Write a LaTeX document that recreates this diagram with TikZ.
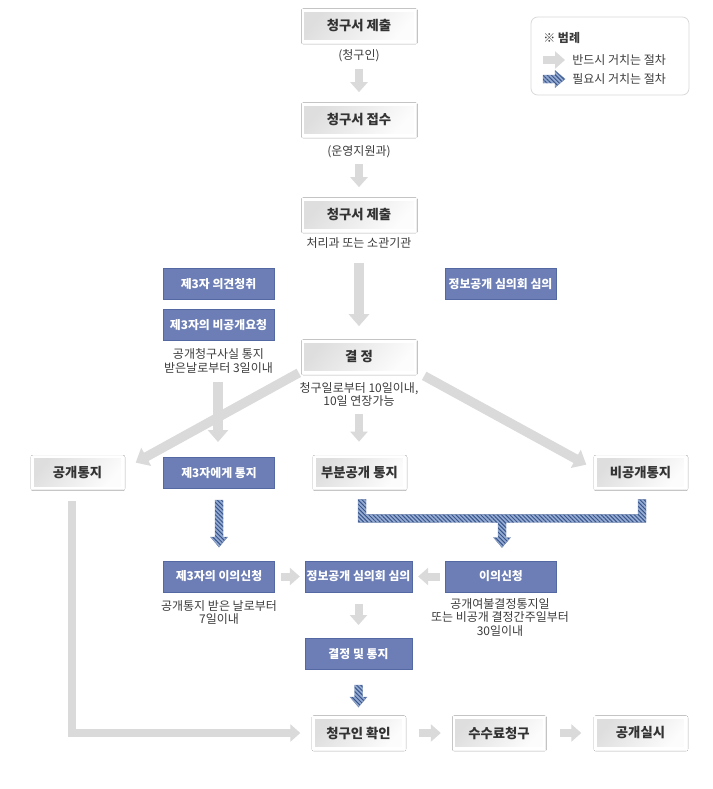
\documentclass[tikz,border=0pt]{standalone}
\usepackage{fontspec}
\setmainfont{Noto Sans CJK KR}
\usetikzlibrary{arrows.meta,calc,patterns.meta,shadows.blur}
\definecolor{boxblue}{RGB}{108,126,181}
\definecolor{boxblueedge}{RGB}{84,104,164}
\definecolor{arrgray}{RGB}{218,218,218}
\definecolor{hatchbg}{RGB}{150,172,210}
\definecolor{hatchfg}{RGB}{55,85,140}
\definecolor{txtdark}{RGB}{51,51,51}
\definecolor{txtcap}{RGB}{60,60,60}
\newcommand\hatchdown[3]{\path[hatch] ($(#1)+(-4,#2)$) -- ++(8,0) -- ++(0,#3-10) -- ++(4.5,0) -- ++(-8.5,10) -- ++(-8.5,-10) -- ++(4.5,0) -- cycle;}
\newcommand\hatchright[2]{\path[hatch] ($(#1)+(0,-4)$) -- ++(#2-10,0) -- ++(0,-4.5) -- ++(10,8.5) -- ++(-10,8.5) -- ++(0,-4.5) -- ++(-#2+10,0) -- cycle;}
\begin{document}
\begin{tikzpicture}[x=0.75pt,y=-0.75pt,
  graybox/.style={draw=white, line width=1.8pt, inner sep=0pt,
    minimum width=67.5pt, minimum height=23.5pt,
    left color=black!13, middle color=black!8, right color=black!1, shading angle=50,
    blur shadow={shadow xshift=0.3pt, shadow yshift=-0.3pt, shadow blur radius=1.6pt, shadow opacity=30},
    text=txtdark, font=\fontsize{10}{11}\selectfont\bfseries},
  bluebox/.style={draw=boxblueedge, line width=0.5pt, fill=boxblue, inner sep=0pt,
    minimum width=83.5pt, minimum height=23.5pt,
    text=white, font=\fontsize{8.9}{11}\selectfont\bfseries},
  capt/.style={align=center, text=txtcap, inner sep=0pt, font=\fontsize{9}{9.9}\selectfont},
  garrow/.style={draw=arrgray, line width=6pt, -{Triangle[width=12.75pt,length=7.5pt]}},
  garrowb/.style={draw=arrgray, line width=7pt, -{Triangle[width=15pt,length=9pt]}},
  hatch/.style={preaction={fill=hatchbg}, pattern={Lines[angle=-45,distance=2.2pt,line width=0.75pt]}, pattern color=hatchfg, draw=hatchfg!70, line width=0.3pt},
  legtxt/.style={anchor=west, inner sep=0pt, text=txtcap, font=\fontsize{9}{10}\selectfont}]
\fill[white] (0,0) rectangle (713,789);
\useasboundingbox (0,0) rectangle (713,789);

% legend
\node[draw=black!15, line width=0.6pt, rounded corners=5pt, minimum width=118.5pt, minimum height=58.5pt, inner sep=0pt] (legend) at (610,56) {};
\node[legtxt] (legtitle) at (543,38) {※ \bfseries 범례};
\coordinate (lga) at (543,60);
\coordinate (lgb) at (565,60);
\draw[garrow] (lga) -- (lgb);
\node[legtxt] (leg1) at (572,60) {반드시 거치는 절차};
\coordinate (lgc) at (543,79);
\hatchright{lgc}{22}
\node[legtxt] (leg2) at (572,79) {필요시 거치는 절차};

% main column
\node[graybox, minimum width=84pt] (sub1) at (359,26) {청구서 제출};
\node[capt] (cap1) at (359,56) {(청구인)};
\node[graybox, minimum width=84pt] (rec) at (359,120) {청구서 접수};
\node[capt] (cap2) at (359,152) {(운영지원과)};
\node[graybox, minimum width=84pt] (sub2) at (359,215) {청구서 제출};
\node[capt] (cap3) at (359,243) {처리과 또는 소관기관};
\node[graybox, minimum width=84pt] (dec) at (359,357) {결 정};
\node[capt] (cap4) at (359,394.5) {청구일로부터 10일이내,\\10일 연장가능};

\node[bluebox] (op3) at (218.5,284) {제3자 의견청취};
\node[bluebox] (np3) at (218.5,325) {제3자의 비공개요청};
\node[capt] (cap5) at (218.5,361) {공개청구사실 통지\\받은날로부터 3일이내};
\node[bluebox] (rev1) at (500.5,284) {정보공개 심의회 심의};

\node[graybox] (pub) at (77.5,472.5) {공개통지};
\node[bluebox] (notify3) at (219,473) {제3자에게 통지};
\node[graybox] (part) at (359.5,472.5) {부분공개 통지};
\node[graybox] (nonpub) at (640.5,472.5) {비공개통지};

\node[bluebox] (obj3) at (219,576.5) {제3자의 이의신청};
\node[bluebox, minimum width=80pt] (rev2) at (358.5,576.5) {정보공개 심의회 심의};
\node[bluebox] (obj) at (501,576.5) {이의신청};
\node[capt] (cap6) at (219,612.5) {공개통지 받은 날로부터\\7일이내};
\node[capt] (cap7) at (500,617.5) {공개여불결정통지일\\또는 비공개 결정간주일부터\\30일이내};
\node[bluebox, minimum width=80pt] (decn) at (358.5,654) {결정 및 통지};

\node[graybox] (conf) at (358.5,733) {청구인 확인};
\node[graybox] (fee) at (499,733) {수수료청구};
\node[graybox] (exe) at (640.5,733) {공개실시};

% gray arrows
\draw[garrow, shorten <=19.5pt, shorten >=8.25pt] (sub1.south) -- (rec.north);
\draw[garrow, shorten <=20.25pt, shorten >=8.25pt] (rec.south) -- (sub2.north);
\draw[garrowb, shorten <=23.25pt, shorten >=10.5pt] (sub2.south) -- (dec.north);
\draw[garrowb] ($(dec.south west)+(-3,-1)$) -- ($(pub.north east)+(12,7)$);
\draw[garrowb] ($(dec.south east)+(8,2)$) -- ($(nonpub.north west)+(-8,9)$);
\draw[garrowb] ($(notify3.north)+(-1,-75)$) -- ($(notify3.north)+(-1,-15)$);
\draw[garrow, shorten <=30pt, shorten >=10.5pt] (dec.south) -- (dec.south |- part.north);
\draw[garrow, shorten <=4.5pt, shorten >=3.75pt] (obj3.east) -- (rev2.west);
\draw[garrow, shorten <=3.75pt, shorten >=4.5pt] (obj.west) -- (rev2.east);
\draw[garrow, shorten <=8.25pt, shorten >=9.75pt] (rev2.south) -- (decn.north);
\draw[garrow] ($(pub.south)+(-5.5,12)$) |- ($(conf.west)+(-12,0)$);
\draw[garrow, shorten <=10.5pt, shorten >=9pt] (conf.east) -- (fee.west);
\draw[garrow, shorten <=11.25pt, shorten >=9.75pt] (fee.east) -- (exe.west);

% hatched arrows
\hatchdown{notify3.south}{11}{47}
\hatchdown{decn.south}{15}{22}
\coordinate (bl) at ($(part.south)+(2.5,10)$);
\coordinate (br) at ($(nonpub.south)+(1.5,10)$);
\coordinate (bt) at ($(obj.north)+(1,-13)$);
\path[hatch] ($(bl)+(-4,0)$) -- ($(bl)+(4,0)$) -- ($(bl)+(4,15)$) -- ($(br)+(-4,15)$) -- ($(br)+(-4,0)$) -- ($(br)+(4,0)$) -- ($(br)+(4,23)$) -- ($(bt)+(4,-25)$) -- ($(bt)+(4,-10)$) -- ($(bt)+(8.5,-10)$) -- (bt) -- ($(bt)+(-8.5,-10)$) -- ($(bt)+(-4,-10)$) -- ($(bt)+(-4,-25)$) -- ($(bl)+(-4,23)$) -- cycle;
\end{tikzpicture}
\end{document}
